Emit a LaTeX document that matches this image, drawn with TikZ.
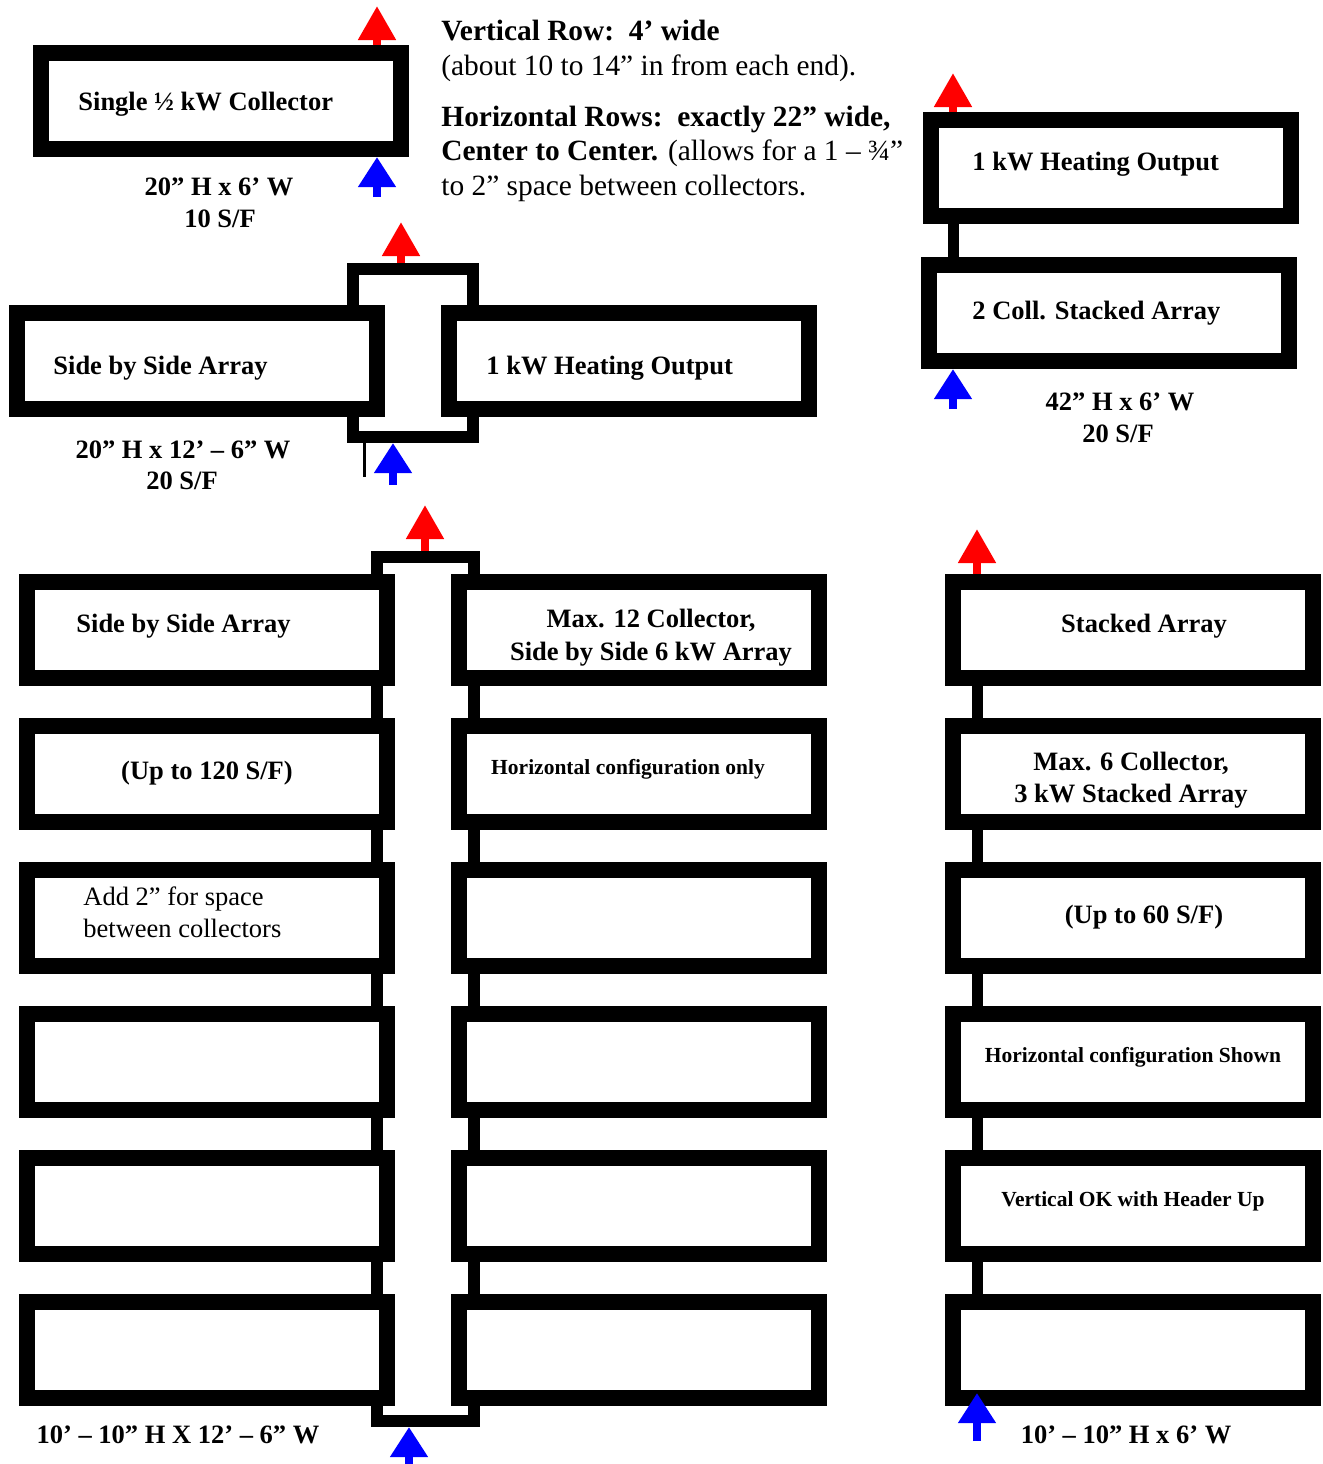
\documentclass[tikz,border=0pt]{standalone}
\usepackage{fontspec}
\setmainfont{Liberation Serif}
\usetikzlibrary{arrows.meta}

\begin{document}
\begin{tikzpicture}[x=0.5pt, y=-0.5pt,
	collector/.style={draw, fill=white, line width=8pt, minimum width=180pt, minimum height=48pt, inner sep=0pt},
	header/.style={draw, line width=6pt, inner sep=0pt},
	riser/.style={line width=5.5pt},
	hot/.style={red, line width=4pt, -{Triangle[width=18pt, length=17pt]}},
	cold/.style={blue, line width=4pt, -{Triangle[width=18pt, length=15pt]}},
	lbl/.style={inner sep=0pt, font=\fontsize{13.25}{16}\selectfont\bfseries},
	note/.style={inner sep=0pt, font=\fontsize{10.75}{13}\selectfont\bfseries},
	txt/.style={inner sep=0pt, font=\fontsize{13.25}{16}\selectfont},
	para/.style={inner sep=0pt, anchor=base west, font=\fontsize{14.7}{17}\selectfont}]
	\useasboundingbox (0,0) rectangle (1323,1464);
	
	% single collector
	\node[collector] (one) at (221,101) {};
	\node[lbl, anchor=base west] (oneT) at (78,110) {Single ½ kW Collector};
	\node[lbl, anchor=base] (oneD) at (219,195) {20” H x 6’ W};
	\node[lbl, anchor=base] (oneA) at (220,227) {10 S/F};
	\coordinate (oneHot) at (377,6);
	\coordinate (oneCold) at (377,197);
	\draw[hot] (one.north -| oneHot) -- (oneHot);
	\draw[cold] (oneCold) -- (one.south -| oneCold);
	
	% notes
	\node[para] (vr1) at (441,40) {\textbf{Vertical Row:\ \ 4’ wide}};
	\node[para] (vr2) at (441,75) {(about 10 to 14” in from each end).};
	\node[para] (hr1) at (441,126) {\textbf{Horizontal Rows:\ \ exactly 22” wide,}};
	\node[para] (hr2) at (441,160) {\textbf{Center to Center.} (allows for a 1 – ¾”};
	\node[para] (hr3) at (441,195) {to 2” space between collectors.};
	
	% side by side pair
	\node[header, minimum width=60pt, minimum height=84pt] (pair) at (413,353) {};
	\node[collector] (pairL) at (197,361) {};
	\node[collector] (pairR) at (629,361) {};
	\node[lbl, anchor=base west] (pairLT) at (53,374) {Side by Side Array};
	\node[lbl, anchor=base west] (pairRT) at (486,374) {1 kW Heating Output};
	\node[lbl, anchor=base] (pairD) at (183,458) {20” H x 12’ – 6” W};
	\node[lbl, anchor=base] (pairA) at (182,489) {20 S/F};
	\coordinate (pairHot) at (401,222);
	\coordinate (pairCold) at (393,485);
	\coordinate (tick) at (364,477);
	\draw[hot] (pair.north -| pairHot) -- (pairHot);
	\draw[cold] (pairCold) -- (pair.south -| pairCold);
	\draw[line width=1.5pt] (pair.south -| tick) -- (tick);
	
	% two stacked
	\node[collector] (twoA) at (1111,168) {};
	\node[collector] (twoB) at (1109,313) {};
	\node[lbl, anchor=base west] (twoAT) at (972,170) {1 kW Heating Output};
	\node[lbl, anchor=base west] (twoBT) at (972,319) {2 Coll. Stacked Array};
	\node[lbl, anchor=base] (twoD) at (1120,410) {42” H x 6’ W};
	\node[lbl, anchor=base] (twoS) at (1118,442) {20 S/F};
	\coordinate (twoHot) at (953,73);
	\coordinate (twoCold) at (953,409);
	\draw[riser] (twoA.south -| twoHot) -- (twoB.north -| twoHot);
	\draw[hot] (twoA.north -| twoHot) -- (twoHot);
	\draw[cold] (twoCold) -- (twoB.south -| twoCold);
	
	% 12 collector side by side
	\node[header, minimum width=48.5pt, minimum height=432pt] (main) at (425,989) {};
	\foreach \i in {1,...,6} {
		\node[collector] (L\i) at (207,{486+144*\i}) {};
		\node[collector] (R\i) at (639,{486+144*\i}) {};
	}
	\node[lbl, anchor=base west] (L1T) at (76,632) {Side by Side Array};
	\node[lbl, anchor=base] (L2T) at (207,779) {(Up to 120 S/F)};
	\node[txt, anchor=base west] (L3Ta) at (83,905) {Add 2” for space};
	\node[txt, anchor=base west] (L3Tb) at (83,937) {between collectors};
	\node[lbl, anchor=base] (R1Ta) at (651,627) {Max. 12 Collector,};
	\node[lbl, anchor=base] (R1Tb) at (651,660) {Side by Side 6 kW Array};
	\node[note, anchor=base] (R2T) at (628,774) {Horizontal configuration only};
	\node[lbl, anchor=base] (mainD) at (178,1443) {10’ – 10” H X 12’ – 6” W};
	\coordinate (mainHot) at (425,505);
	\coordinate (mainCold) at (409,1464);
	\draw[hot] (main.north -| mainHot) -- (mainHot);
	\draw[cold] (mainCold) -- (main.south -| mainCold);
	
	% 6 collector stacked
	\coordinate (stkHot) at (977,529);
	\coordinate (stkCold) at (977,1441);
	\coordinate (stkIn) at (977,1393);
	\foreach \i in {1,...,6}
		\node[collector] (S\i) at (1133,{486+144*\i}) {};
	\foreach \i/\j in {1/2,2/3,3/4,4/5,5/6}
		\draw[riser] (S\i.south -| stkHot) -- (S\j.north -| stkHot);
	\node[lbl, anchor=base] (S1T) at (1144,632) {Stacked Array};
	\node[lbl, anchor=base] (S2Ta) at (1131,770) {Max. 6 Collector,};
	\node[lbl, anchor=base] (S2Tb) at (1131,802) {3 kW Stacked Array};
	\node[lbl, anchor=base] (S3T) at (1144,923) {(Up to 60 S/F)};
	\node[note, anchor=base] (S4T) at (1133,1062) {Horizontal configuration Shown};
	\node[note, anchor=base] (S5T) at (1133,1206) {Vertical OK with Header Up};
	\node[lbl, anchor=base] (stkD) at (1126,1443) {10’ – 10” H x 6’ W};
	\draw[hot] (S1.north -| stkHot) -- (stkHot);
	\draw[cold] (stkCold) -- (stkIn);
	
\end{tikzpicture}
\end{document}
